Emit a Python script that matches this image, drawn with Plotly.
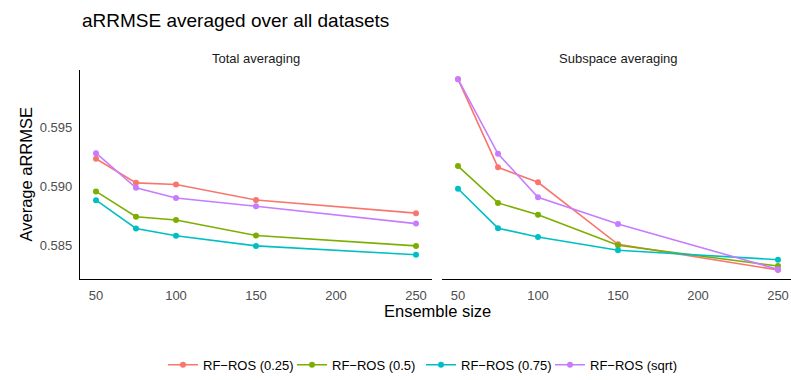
import plotly.graph_objects as go

ensemble_sizes = [50, 75, 100, 150, 250]
series_names = ["RF\u2212ROS (0.25)", "RF\u2212ROS (0.5)", "RF\u2212ROS (0.75)", "RF\u2212ROS (sqrt)"]
colors = ["#F8766D", "#7CAE00", "#00BFC4", "#C77CFF"]

total_025 = [0.59234, 0.59029, 0.59015, 0.58883, 0.58771]
total_05 = [0.58956, 0.58740, 0.58713, 0.58581, 0.58492]
total_075 = [0.58881, 0.58640, 0.58578, 0.58492, 0.58416]
total_sqrt = [0.59282, 0.58987, 0.58900, 0.58830, 0.58682]

sub_025 = [0.59912, 0.59161, 0.59034, 0.58505, 0.58287]
sub_05 = [0.59172, 0.58858, 0.58757, 0.58497, 0.58320]
sub_075 = [0.58979, 0.58643, 0.58567, 0.58455, 0.58374]
sub_sqrt = [0.59912, 0.59276, 0.58906, 0.58679, 0.58292]

y_ticks = [0.585, 0.590, 0.595]
x_ticks = [50, 100, 150, 200, 250]

total = [total_025, total_05, total_075, total_sqrt]
sub = [sub_025, sub_05, sub_075, sub_sqrt]

W, H = 791, 380
L, R, T, B = 80, 791, 70, 282

fig = go.Figure()
for name, col, yv in zip(series_names, colors, total):
    fig.add_trace(go.Scatter(x=ensemble_sizes, y=yv, mode="lines+markers", name=name,
                             line=dict(color=col, width=1.6), marker=dict(color=col, size=6),
                             xaxis="x", yaxis="y", legendgroup=name))
for name, col, yv in zip(series_names, colors, sub):
    fig.add_trace(go.Scatter(x=ensemble_sizes, y=yv, mode="lines+markers", name=name,
                             line=dict(color=col, width=1.6), marker=dict(color=col, size=6),
                             xaxis="x2", yaxis="y2", legendgroup=name, showlegend=False))

font = "Liberation Sans, Arial, sans-serif"
ph = B - T

def py(px):
    return (B - px) / ph

yr = [0.5821, 0.5999]
axis_common = dict(showgrid=False, zeroline=False, ticks="outside", ticklen=4,
                   tickcolor="rgba(0,0,0,0)", tickfont=dict(size=13, color="#4D4D4D", family=font))

fig.update_layout(
    width=W, height=H,
    margin=dict(l=0, r=0, t=T, b=H - B, pad=0),
    paper_bgcolor="white", plot_bgcolor="white",
    font=dict(family=font, color="black"),
    showlegend=True,
    legend=dict(orientation="h", x=421 / W, xanchor="center", y=py(369), yanchor="middle",
                font=dict(size=13, color="black"), itemwidth=30, tracegroupgap=0,
                entrywidth=84, entrywidthmode="pixels"),
    xaxis=dict(domain=[L / W, 432 / W], range=[40, 260], tickvals=x_ticks,
               showline=True, linecolor="black", linewidth=1.3, anchor="y", **axis_common),
    xaxis2=dict(domain=[442 / W, 1.0], range=[40, 40 + (791 - 442) / 1.6], tickvals=x_ticks,
                showline=True, linecolor="black", linewidth=1.3, anchor="y2", **axis_common),
    yaxis=dict(range=yr, tickvals=y_ticks, tickformat=".3f", showline=True, linecolor="black",
               linewidth=1.3, anchor="x", **axis_common),
    yaxis2=dict(range=yr, tickvals=y_ticks, showticklabels=False, showline=False, anchor="x2",
                matches="y", showgrid=False, zeroline=False),
    annotations=[
        dict(text="aRRMSE averaged over all datasets", x=L / W, xanchor="left", y=py(20), yanchor="middle",
             xref="paper", yref="paper", showarrow=False, font=dict(size=19, color="black")),
        dict(text="Total averaging", x=(L + 432) / 2 / W, xanchor="center", y=py(58), yanchor="middle",
             xref="paper", yref="paper", showarrow=False, font=dict(size=13, color="#1A1A1A")),
        dict(text="Subspace averaging", x=618 / W, xanchor="center", y=py(58), yanchor="middle",
             xref="paper", yref="paper", showarrow=False, font=dict(size=13, color="#1A1A1A")),
        dict(text="Ensemble size", x=437 / W, xanchor="center", y=py(314), yanchor="middle",
             xref="paper", yref="paper", showarrow=False, font=dict(size=16.5, color="black")),
        dict(text="Average aRRMSE", x=25 / W, xanchor="center", y=0.5, yanchor="middle", textangle=-90,
             xref="paper", yref="paper", showarrow=False, font=dict(size=16.5, color="black")),
    ],
)

fig.write_html("out.html")
